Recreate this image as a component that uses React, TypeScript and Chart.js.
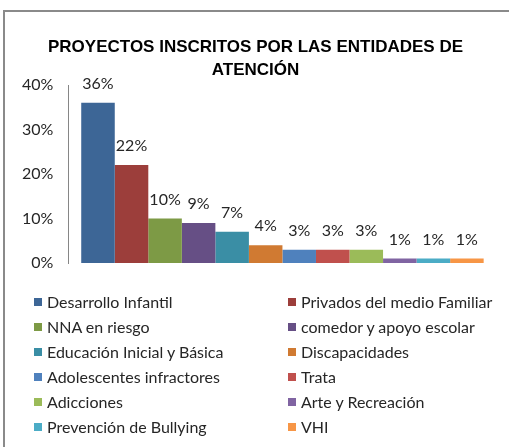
import React, { useEffect, useRef } from "react";
import { Chart, registerables } from "chart.js";

Chart.register(...registerables);

const titleLines = ["PROYECTOS INSCRITOS POR LAS ENTIDADES DE", "ATENCIÓN"];
const seriesNames = [
  "Desarrollo Infantil",
  "Privados del medio Familiar",
  "NNA en riesgo",
  "comedor y apoyo escolar",
  "Educación Inicial y Básica",
  "Discapacidades",
  "Adolescentes infractores",
  "Trata",
  "Adicciones",
  "Arte y Recreación",
  "Prevención de Bullying",
  "VHI",
];
const seriesValues = [36, 22, 10, 9, 7, 4, 3, 3, 3, 1, 1, 1];
const seriesColors = [
  "#3D6696",
  "#9C3E3B",
  "#7D9A45",
  "#664F85",
  "#3A8EA5",
  "#D07A32",
  "#4F81BD",
  "#C0504D",
  "#9BBB59",
  "#8064A2",
  "#4BACC6",
  "#F79646",
];
const yTicks = [0, 10, 20, 30, 40];

const FONT = "Lato, 'Open Sans', sans-serif";

const labelPlugin = {
  id: "barLabels",
  afterDatasetsDraw(chart: any) {
    const ctx = chart.ctx;
    ctx.save();
    ctx.font = `16px ${FONT}`;
    ctx.fillStyle = "#262626";
    ctx.textAlign = "center";
    ctx.textBaseline = "middle";
    chart.data.datasets.forEach((ds: any, i: number) => {
      const meta = chart.getDatasetMeta(i);
      const bar = meta.data[0];
      if (!bar) return;
      ctx.fillText(`${Math.round(ds.data[0])}%`, bar.x, bar.y - 19);
    });
    ctx.restore();
  },
};

const titlePlugin = {
  id: "centeredTitle",
  afterDraw(chart: any) {
    const ctx = chart.ctx;
    ctx.save();
    ctx.font = `bold 17px 'Liberation Sans', Arial, sans-serif`;
    ctx.fillStyle = "#000";
    ctx.textAlign = "center";
    ctx.textBaseline = "middle";
    titleLines.forEach((line, i) => {
      ctx.fillText(line, chart.width / 2 + 1, 47 + i * 23);
    });
    ctx.restore();
  },
};

export default function App() {
  const ref = useRef<HTMLCanvasElement>(null);
  useEffect(() => {
    if (!ref.current) return;
    const chart = new Chart(ref.current, {
      type: "bar",
      data: {
        labels: [""],
        datasets: seriesNames.map((name, i) => ({
          label: name,
          data: [seriesValues[i]],
          backgroundColor: seriesColors[i],
          borderWidth: 0,
          barPercentage: 1,
          categoryPercentage: 0.94,
        })),
      },
      options: {
        responsive: false,
        animation: false,
        layout: { padding: { top: 85, left: 7, right: 12.5, bottom: 184 } },
        plugins: {
          legend: { display: false },
          tooltip: { enabled: false },
          title: { display: false },
        },
        scales: {
          x: { display: false },
          y: {
            min: 0,
            max: 40,
            afterBuildTicks: (axis: any) => {
              axis.ticks = yTicks.map((v) => ({ value: v }));
            },
            grid: { display: false, drawTicks: false },
            border: { display: true, color: "#868686", width: 1 },
            ticks: {
              padding: 15,
              color: "#262626",
              font: { family: FONT, size: 16 },
              callback: (v: any) => `${v}%`,
            },
          },
        },
      },
      plugins: [labelPlugin, titlePlugin],
    });
    return () => chart.destroy();
  }, []);

  const rows = [];
  for (let i = 0; i < seriesNames.length; i++) {
    const col = i % 2;
    const row = Math.floor(i / 2);
    rows.push(
      <div
        key={i}
        style={{
          position: "absolute",
          left: col === 0 ? 34 : 288,
          top: 302 + row * 25 - 12,
          height: 24,
          display: "flex",
          alignItems: "center",
          whiteSpace: "nowrap",
        }}
      >
        <span style={{ display: "inline-block", width: 8, height: 8, background: seriesColors[i], marginRight: 5 }} />
        <span style={{ fontFamily: FONT, fontSize: 16, color: "#262626", lineHeight: "24px" }}>{seriesNames[i]}</span>
      </div>
    );
  }

  return (
    <div style={{ position: "fixed", left: 0, top: 0, width: 509, height: 447, background: "#fff", overflow: "hidden" }}>
      <div
        style={{
          position: "absolute",
          left: 3,
          top: 10,
          right: -10,
          bottom: -10,
          borderLeft: "2px solid #8A8A8A",
          borderTop: "2px solid #8A8A8A",
        }}
      />
      <canvas ref={ref} width={509} height={447} style={{ position: "absolute", left: 0, top: 0 }} />
      {rows}
    </div>
  );
}
